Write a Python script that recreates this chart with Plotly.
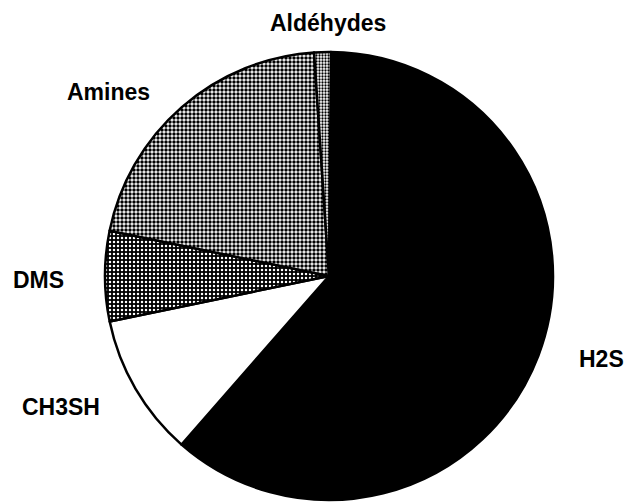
import plotly.graph_objects as go

categories = ["H2S", "CH3SH", "DMS", "Amines", "Aldéhydes"]
values = [61.3, 10.3, 6.5, 20.7, 1.2]

label_x = [601, 61, 38, 108, 328]
label_y = [359, 407, 280, 92, 23]

W, H = 628, 503

fig = go.Figure()
fig.add_trace(go.Pie(
    labels=categories,
    values=values,
    sort=False,
    direction="clockwise",
    rotation=0.5,
    textinfo="none",
    hoverinfo="label+percent",
    showlegend=False,
    marker=dict(
        colors=["#000000", "#ffffff", "#222222", "#ffffff", "#ffffff"],
        line=dict(color="#000000", width=2.5),
        pattern=dict(
            shape=["", "", ".", ".", "."],
            fgcolor=["#000000", "#000000", "#ffffff", "#000000", "#000000"],
            bgcolor=["#000000", "#ffffff", "#000000", "#ffffff", "#ffffff"],
            size=[4, 4, 4, 4, 3],
            solidity=[0.3, 0.3, 0.3, 0.6, 0.45],
        ),
    ),
    domain=dict(x=[105 / W, 553 / W], y=[3 / H, 451 / H]),
))

for name, x, y in zip(categories, label_x, label_y):
    fig.add_annotation(
        text=name, x=x / W, y=1 - y / H, xref="paper", yref="paper",
        showarrow=False, xanchor="center", yanchor="middle",
        font=dict(family="Liberation Sans", size=23, color="#000000", weight="bold"),
    )

fig.update_layout(
    width=W, height=H,
    margin=dict(l=0, r=0, t=0, b=0),
    paper_bgcolor="#ffffff",
    plot_bgcolor="#ffffff",
)

fig.write_html(
    "out.html",
    config={"displayModeBar": False},
    post_script="document.body.style.margin='0';document.body.style.overflow='hidden';",
)
